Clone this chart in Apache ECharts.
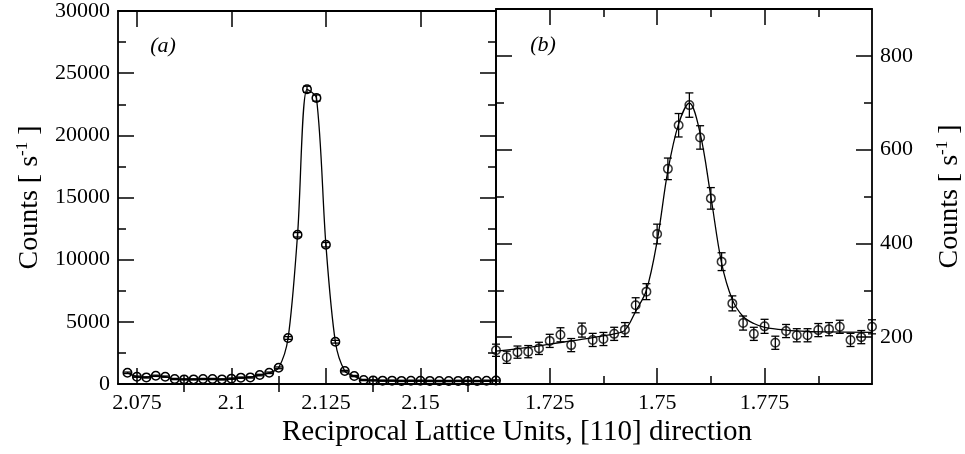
<!DOCTYPE html>
<html>
<head>
<meta charset="utf-8">
<script src="https://cdn.jsdelivr.net/npm/echarts@6/dist/echarts.min.js"></script>
<style>
html,body{margin:0;padding:0;background:#fff;}
#chart{width:965px;height:454px;}
</style>
</head>
<body>
<div id="chart"></div>
<script>
// ---------- Panel (a) ----------
var leftX = [2.0725,2.075,2.0775,2.08,2.0825,2.085,2.0875,2.09,2.0925,2.095,2.0975,2.1,2.1025,2.105,2.1075,2.11,2.1125,2.115,2.1175,2.12,2.1225,2.125,2.1275,2.13,2.1325,2.135,2.1375,2.14,2.1425,2.145,2.1475,2.15,2.1525,2.155,2.1575,2.16,2.1625,2.165,2.1675,2.17];
var leftY = [900,590,530,660,590,400,370,370,400,400,370,430,510,530,720,900,1300,3700,12000,23700,23000,11200,3400,1040,640,320,290,270,270,250,260,260,250,240,240,250,250,240,260,280];
var leftErr = [60,50,50,50,50,50,50,50,50,50,50,50,50,50,60,60,70,110,180,250,250,180,110,60,50,50,50,50,50,50,50,50,50,50,50,50,50,50,50,50];
var leftXMajor = [2.075,2.1,2.125,2.15];
var leftXMinor = [2.0875,2.1125,2.1375,2.1625];

// ---------- Panel (b) ----------
var rightX = [1.7125,1.715,1.7175,1.72,1.7225,1.725,1.7275,1.73,1.7325,1.735,1.7375,1.74,1.7425,1.745,1.7475,1.75,1.7525,1.755,1.7575,1.76,1.7625,1.765,1.7675,1.77,1.7725,1.775,1.7775,1.78,1.7825,1.785,1.7875,1.79,1.7925,1.795,1.7975,1.8];
var rightY = [172,157,168,169,176,192,205,183,215,194,196,207,216,268,297,420,559,652,695,626,496,361,272,230,207,223,188,213,204,204,215,217,222,194,200,222];
var rightErr = [13,13,13,13,13,14,15,14,15,14,14,14,15,16,17,21,23,25,26,25,23,19,16,15,14,15,14,14,14,14,14,14,14,14,14,15];
var fitX = [1.7125,1.72,1.725,1.73,1.735,1.74,1.7425,1.745,1.7475,1.75,1.7525,1.755,1.7575,1.76,1.7625,1.765,1.7675,1.77,1.7725,1.775,1.78,1.785,1.79,1.8];
var fitY = [170,178,185,192,199,207,215,255,300,405,555,655,699,635,500,358,280,244,229,221,215,212,211,210];
var rightXMajor = [1.725,1.75,1.775];
var rightXMinor = [1.7375,1.7625,1.7875];
var rightYMajor = [200,400,600,800];
var rightYMinor = [300,500,700];

var yTitle = 'Counts [ s{sup|-1} ]';
var xTitle = 'Reciprocal Lattice Units, [110] direction';

var FONT = 'Liberation Serif';
var BLACK = '#000';

function zip3(a, b, c) {
  var out = [];
  for (var i = 0; i < a.length; i++) out.push(c ? [a[i], b[i], c[i]] : [a[i], b[i]]);
  return out;
}

var lineAxis = {show: true, onZero: false, lineStyle: {color: BLACK, width: 1.8}};
var noLine = {show: false};
var labelStyle = {color: BLACK, fontFamily: FONT, fontSize: 22, margin: 8};
function plain(v) { return String(v); }

function xAx(grid, pos, min, max, ticks, len, withLabels, showLine) {
  return {
    type: 'value', gridIndex: grid, position: pos, min: min, max: max,
    axisLine: showLine ? lineAxis : noLine,
    axisTick: {show: true, inside: true, length: len, customValues: ticks, lineStyle: {color: BLACK, width: 1.5}},
    axisLabel: withLabels ? Object.assign({show: true, customValues: ticks, formatter: plain}, labelStyle) : {show: false},
    splitLine: {show: false}
  };
}
function yAxCustom(grid, pos, min, max, ticks, len, withLabels, showLine, extra) {
  var a = {
    type: 'value', gridIndex: grid, position: pos, min: min, max: max,
    axisLine: showLine ? lineAxis : noLine,
    axisTick: {show: true, inside: true, length: len, customValues: ticks, lineStyle: {color: BLACK, width: 1.5}},
    axisLabel: withLabels ? Object.assign({show: true, customValues: ticks, formatter: plain}, labelStyle) : {show: false},
    splitLine: {show: false}
  };
  return Object.assign(a, extra || {});
}

var nameStyle = {
  color: BLACK, fontFamily: FONT, fontSize: 28,
  rich: {sup: {fontFamily: FONT, fontSize: 17, color: BLACK, padding: [0, 0, 15, 0]}}
};

function errRender(params, api) {
  var x = api.value(0), y = api.value(1), e = api.value(2);
  var top = api.coord([x, y + e]);
  var bot = api.coord([x, y - e]);
  var w = 4;
  var st = {stroke: BLACK, lineWidth: 1.3};
  return {
    type: 'group',
    children: [
      {type: 'line', shape: {x1: top[0], y1: top[1], x2: bot[0], y2: bot[1]}, style: st},
      {type: 'line', shape: {x1: top[0] - w, y1: top[1], x2: top[0] + w, y2: top[1]}, style: st},
      {type: 'line', shape: {x1: bot[0] - w, y1: bot[1], x2: bot[0] + w, y2: bot[1]}, style: st}
    ]
  };
}

var circleStyle = {color: 'rgba(0,0,0,0)', borderColor: BLACK, borderWidth: 1.5};

var option = {
  animation: false,
  backgroundColor: '#fff',
  grid: [
    {left: 118, top: 9, width: 378, height: 375, containLabel: false},
    {left: 496, top: 9, width: 379, height: 375, containLabel: false}
  ],
  xAxis: [
    xAx(0, 'bottom', 2.07, 2.17, leftXMajor, 16, true, true),
    xAx(0, 'bottom', 2.07, 2.17, leftXMinor, 8, false, false),
    xAx(0, 'top', 2.07, 2.17, leftXMajor, 16, false, true),
    xAx(0, 'top', 2.07, 2.17, leftXMinor, 8, false, false),
    xAx(1, 'bottom', 1.7125, 1.8, rightXMajor, 16, true, true),
    xAx(1, 'bottom', 1.7125, 1.8, rightXMinor, 8, false, false),
    xAx(1, 'top', 1.7125, 1.8, rightXMajor, 16, false, true),
    xAx(1, 'top', 1.7125, 1.8, rightXMinor, 8, false, false)
  ],
  yAxis: [
    {
      type: 'value', gridIndex: 0, position: 'left', min: 0, max: 30000, interval: 5000,
      axisLine: lineAxis,
      axisTick: {show: true, inside: true, length: 16, lineStyle: {color: BLACK, width: 1.5}},
      minorTick: {show: true, splitNumber: 2, length: 8, lineStyle: {color: BLACK, width: 1.5}},
      axisLabel: Object.assign({show: true, formatter: plain}, labelStyle),
      splitLine: {show: false}, minorSplitLine: {show: false},
      name: yTitle, nameLocation: 'middle', nameRotate: 90, nameGap: 72, nameTextStyle: nameStyle
    },
    {
      type: 'value', gridIndex: 0, position: 'right', min: 0, max: 30000, interval: 5000,
      axisLine: lineAxis,
      axisTick: {show: true, inside: true, length: 16, lineStyle: {color: BLACK, width: 1.5}},
      minorTick: {show: true, splitNumber: 2, length: 8, lineStyle: {color: BLACK, width: 1.5}},
      axisLabel: {show: false},
      splitLine: {show: false}, minorSplitLine: {show: false}
    },
    yAxCustom(1, 'left', 100, 900, rightYMajor, 16, false, true),
    yAxCustom(1, 'left', 100, 900, rightYMinor, 8, false, false),
    yAxCustom(1, 'right', 100, 900, rightYMajor, 16, true, true,
      {name: yTitle, nameLocation: 'middle', nameRotate: 90, nameGap: 62, nameTextStyle: nameStyle}),
    yAxCustom(1, 'right', 100, 900, rightYMinor, 8, false, false)
  ],
  graphic: [
    {type: 'text', x: 163, y: 46, style: {text: '(a)', fontFamily: FONT, fontStyle: 'italic', fontSize: 22, fill: BLACK, textAlign: 'center', textVerticalAlign: 'middle'}},
    {type: 'text', x: 543, y: 45, style: {text: '(b)', fontFamily: FONT, fontStyle: 'italic', fontSize: 22, fill: BLACK, textAlign: 'center', textVerticalAlign: 'middle'}},
    {type: 'text', x: 517, y: 432, style: {text: xTitle, fontFamily: FONT, fontSize: 29, fill: BLACK, textAlign: 'center', textVerticalAlign: 'middle'}}
  ],
  series: [
    {
      type: 'custom', xAxisIndex: 0, yAxisIndex: 0, renderItem: errRender,
      data: zip3(leftX, leftY, leftErr), silent: true, z: 3
    },
    {
      type: 'line', xAxisIndex: 0, yAxisIndex: 0, data: zip3(leftX, leftY),
      smooth: 0.3, symbol: 'circle', symbolSize: 8.5, showSymbol: true,
      itemStyle: circleStyle, lineStyle: {color: BLACK, width: 1.3},
      emphasis: {disabled: true}, clip: false, z: 4
    },
    {
      type: 'line', xAxisIndex: 4, yAxisIndex: 2, data: zip3(fitX, fitY),
      smooth: 0.35, showSymbol: false, symbol: 'none',
      lineStyle: {color: BLACK, width: 1.3}, emphasis: {disabled: true}, z: 2
    },
    {
      type: 'custom', xAxisIndex: 4, yAxisIndex: 2, renderItem: errRender,
      data: zip3(rightX, rightY, rightErr), silent: true, z: 3
    },
    {
      type: 'scatter', xAxisIndex: 4, yAxisIndex: 2, data: zip3(rightX, rightY),
      symbol: 'circle', symbolSize: 8.5, itemStyle: circleStyle,
      emphasis: {disabled: true}, clip: false, z: 4
    }
  ]
};

var chart = echarts.init(document.getElementById('chart'), null, {renderer: 'canvas'});
chart.setOption(option);
</script>
</body>
</html>
